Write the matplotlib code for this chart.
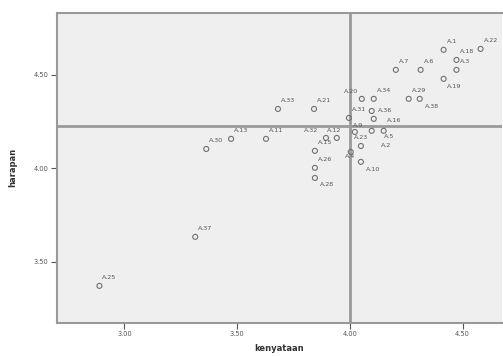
import matplotlib.pyplot as plt

# kenyataan (x) vs harapan (y) per item
labels = ["A.1", "A.22", "A.18", "A.3", "A.7", "A.6", "A.19", "A.29", "A.38",
          "A.20", "A.34", "A.31", "A.36", "A.16", "A.9", "A.23", "A.5", "A.2",
          "A.4", "A.10", "A.33", "A.21", "A.11", "A.13", "A.30", "A.32", "A.12",
          "A.15", "A.26", "A.28", "A.37", "A.25"]
kenyataan = [4.416, 4.580, 4.473, 4.473, 4.204, 4.314, 4.416, 4.261, 4.310,
             4.053, 4.106, 3.996, 4.097, 4.106, 4.022, 4.097, 4.150, 4.049,
             4.004, 4.049, 3.681, 3.841, 3.628, 3.473, 3.363, 3.894, 3.942,
             3.845, 3.845, 3.845, 3.314, 2.889]
harapan = [4.634, 4.639, 4.580, 4.527, 4.527, 4.527, 4.479, 4.372, 4.372,
           4.372, 4.372, 4.270, 4.307, 4.265, 4.195, 4.201, 4.201, 4.120,
           4.088, 4.035, 4.318, 4.318, 4.158, 4.158, 4.104, 4.163, 4.163,
           4.094, 4.003, 3.949, 3.634, 3.372]

mean_x = 4.00
mean_y = 4.227

# label offsets (pixels) where the default upper-right spot is not used
offsets = {
    "A.20": (-18, 7), "A.36": (6, 1), "A.16": (13, -2), "A.9": (-2, 6),
    "A.23": (-18, -7), "A.5": (0, -6), "A.2": (20, 0), "A.4": (-6, -5),
    "A.10": (5, -8), "A.19": (3, -8), "A.38": (5, -8), "A.28": (5, -7),
    "A.32": (-22, 7), "A.12": (-10, 7),
}

fig = plt.figure(figsize=(5.03, 3.56), dpi=100)
ax = fig.add_axes([0.113, 0.093, 0.885, 0.871])
ax.set_facecolor("#efefef")

ax.axvline(mean_x, color="#9a9a9a", lw=2, zorder=1)
ax.axhline(mean_y, color="#9a9a9a", lw=2, zorder=1)

ax.scatter(kenyataan, harapan, s=13, facecolors="none",
           edgecolors="#707070", linewidths=0.8, zorder=3)

for lab, x, y in zip(labels, kenyataan, harapan):
    dx, dy = offsets.get(lab, (3, 8))
    ax.annotate(lab, (x, y), xytext=(dx, dy), textcoords="offset pixels",
                ha="left", va="center", fontsize=4.6, color="#555555",
                zorder=4)

ax.set_xlim(2.70, 4.675)
ax.set_ylim(3.174, 4.832)
ax.set_xticks([3.0, 3.5, 4.0, 4.5])
ax.set_xticklabels(["3.00", "3.50", "4.00", "4.50"])
ax.set_yticks([3.5, 4.0, 4.5])
ax.set_yticklabels(["3.50", "4.00", "4.50"])
ax.tick_params(labelsize=4.8, colors="#555555", length=4, width=0.8, pad=2)

for side in ["left", "bottom", "top"]:
    ax.spines[side].set_color("#999999")
    ax.spines[side].set_linewidth(1.5)
ax.spines["right"].set_visible(False)

ax.set_xlabel("kenyataan", fontsize=6, fontweight="bold", color="#333333",
              labelpad=5)
ax.set_ylabel("harapan", fontsize=6, fontweight="bold", color="#333333",
              labelpad=12)

fig.savefig("out.png", dpi=100)
